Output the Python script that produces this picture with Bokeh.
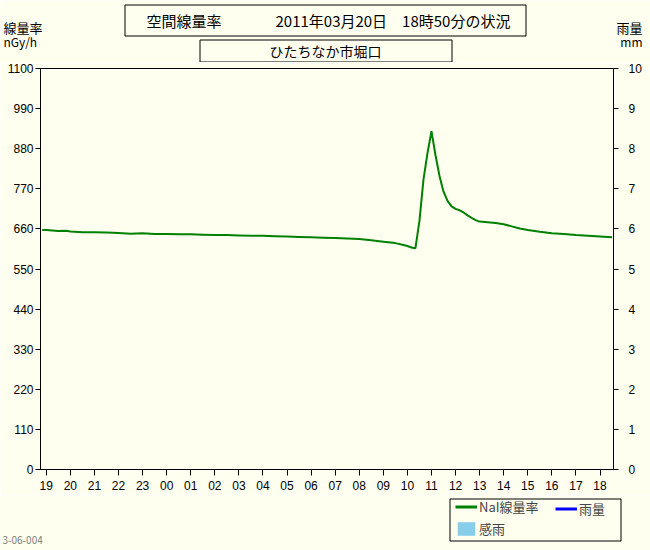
import pandas as pd
from bokeh.plotting import figure
from bokeh.layouts import column
from bokeh.models import (Range1d, LinearAxis, FixedTicker, Label, BoxAnnotation,
                          Legend, LegendItem, ColumnDataSource)
from bokeh.embed import file_html
from bokeh.resources import INLINE

# ---------------- data ----------------
times = [
    "2011-03-19 18:50", "2011-03-19 19:00", "2011-03-19 19:30", "2011-03-19 19:50",
    "2011-03-19 20:00", "2011-03-19 20:30", "2011-03-19 21:00", "2011-03-19 21:30",
    "2011-03-19 22:00", "2011-03-19 22:30", "2011-03-19 23:00", "2011-03-19 23:30",
    "2011-03-20 00:00", "2011-03-20 00:30", "2011-03-20 01:00", "2011-03-20 01:30",
    "2011-03-20 02:00", "2011-03-20 02:30", "2011-03-20 03:00", "2011-03-20 03:30",
    "2011-03-20 04:00", "2011-03-20 04:30", "2011-03-20 05:00", "2011-03-20 05:30",
    "2011-03-20 06:00", "2011-03-20 06:30", "2011-03-20 07:00", "2011-03-20 07:30",
    "2011-03-20 08:00", "2011-03-20 08:30", "2011-03-20 09:00", "2011-03-20 09:30",
    "2011-03-20 09:50", "2011-03-20 10:00", "2011-03-20 10:10", "2011-03-20 10:20",
    "2011-03-20 10:30", "2011-03-20 10:40", "2011-03-20 10:50", "2011-03-20 11:00",
    "2011-03-20 11:10", "2011-03-20 11:20", "2011-03-20 11:30", "2011-03-20 11:40",
    "2011-03-20 11:50", "2011-03-20 12:00", "2011-03-20 12:10", "2011-03-20 12:20",
    "2011-03-20 12:30", "2011-03-20 12:40", "2011-03-20 12:50", "2011-03-20 13:00",
    "2011-03-20 13:20", "2011-03-20 13:40", "2011-03-20 14:00", "2011-03-20 14:20",
    "2011-03-20 14:40", "2011-03-20 15:00", "2011-03-20 15:30", "2011-03-20 16:00",
    "2011-03-20 16:30", "2011-03-20 17:00", "2011-03-20 17:30", "2011-03-20 18:00",
    "2011-03-20 18:30",
]
nai_rate = [
    657, 657, 654, 655,
    653, 651, 651, 650,
    649, 647, 648, 646,
    646, 645, 645, 644,
    643, 643, 642, 641,
    641, 640, 639, 638,
    637, 636, 635, 634,
    632, 629, 625, 621,
    616, 613, 609, 607,
    682, 795, 868, 928,
    862, 805, 762, 737,
    722, 715, 711, 705,
    697, 690, 684, 680,
    678, 676, 673, 667,
    661, 657, 652, 648,
    646, 643, 641, 639,
    637,
]
rain_times = []      # 雨量: no rainfall recorded
rain_mm = []
sense_times = []     # 感雨: no rain sensed
sense_flag = []

rate_ticks = [0, 110, 220, 330, 440, 550, 660, 770, 880, 990, 1100]
rain_ticks = [0, 1, 2, 3, 4, 5, 6, 7, 8, 9, 10]
hour_labels = ["19", "20", "21", "22", "23", "00", "01", "02", "03", "04", "05", "06",
               "07", "08", "09", "10", "11", "12", "13", "14", "15", "16", "17", "18"]

# ---------------- styling ----------------
BG = "#FFFFF0"
FONT = "Noto Sans CJK JP"
NUM_FONT = "Liberation Sans"
W = 650
base = pd.Timestamp("2011-03-19 19:00")


def hrs(ts):
    return [(pd.Timestamp(s) - base) / pd.Timedelta(hours=1) for s in ts]


src = ColumnDataSource(dict(t=hrs(times), v=nai_rate))
rain_src = ColumnDataSource(dict(t=hrs(rain_times), v=rain_mm))
sense_src = ColumnDataSource(dict(t=hrs(sense_times), v=sense_flag))
# one-row placeholder so the legend can draw keys for the (empty) rain series
key_src = ColumnDataSource(dict(t=[float("nan")], v=[float("nan")]))


def blank(height):
    f = figure(width=W, height=height, output_backend="svg", toolbar_location=None,
               x_range=Range1d(0, W), y_range=Range1d(height, 0),
               x_axis_type=None, y_axis_type=None, min_border=0, frame_align=False,
               background_fill_color=BG, border_fill_color=BG, outline_line_color=None)
    f.xgrid.visible = False
    f.ygrid.visible = False
    return f


def lab(f, x, y, text, size="13px", align="left", color="black", font=FONT):
    f.add_layout(Label(x=x, y=y, text=text, text_font=font, text_font_size=size,
                       text_align=align, text_baseline="middle", text_color=color))


def box(f, l, r, t, b):
    f.add_layout(BoxAnnotation(left=l, right=r, top=t, bottom=b, fill_alpha=0,
                               line_color="black", line_width=1, line_alpha=1))


# ---------------- header ----------------
H_TOP = 62
head = blank(H_TOP)
box(head, 124.5, 525.5, 4.5, 35.5)
lab(head, 146, 20, "空間線量率", "15px")
lab(head, 275, 20, "2011年03月20日　18時50分の状況", "15px")
box(head, 199.5, 451.5, 39.5, 61.5)
lab(head, 325, 50.5, "ひたちなか市堀口", "14px", align="center")
lab(head, 3, 27, "線量率", "13px")
lab(head, 3, 41, "nGy/h", "12px")
lab(head, 642, 27, "雨量", "13px", align="right")
lab(head, 642, 41, "mm", "12px", align="right")

# ---------------- main chart ----------------
M_H = 433
p = figure(width=W, height=M_H, output_backend="svg", toolbar_location=None,
           x_range=Range1d(-0.24, 23.56), y_range=Range1d(0, 1100),
           min_border_left=40, min_border_right=37, min_border_top=6, min_border_bottom=26,
           frame_align=False,
           background_fill_color=BG, border_fill_color=BG,
           outline_line_color="black", outline_line_width=1)
p.xgrid.visible = False
p.ygrid.visible = False
p.extra_y_ranges = {"rain": Range1d(0, 10)}

r_nai = p.line("t", "v", source=src, line_color="#008000", line_width=2)
p.line("t", "v", source=rain_src, line_color="#0000FF", line_width=2, y_range_name="rain")
p.vbar(x="t", top="v", width=1/6, bottom=0, source=sense_src, y_range_name="rain",
       fill_color="#87CEEB", line_color=None)

rax = LinearAxis(y_range_name="rain")
p.add_layout(rax, "right")

for ax in [p.xaxis[0], p.yaxis[0], rax]:
    ax.axis_line_color = "black"
    ax.major_tick_line_color = "black"
    ax.minor_tick_line_color = None
    ax.major_tick_in = 0
    ax.major_tick_out = 5
    ax.major_label_text_font = NUM_FONT
    ax.major_label_text_font_size = "12px"
    ax.major_label_text_color = "black"

p.yaxis[0].ticker = FixedTicker(ticks=rate_ticks)
p.yaxis[0].major_label_standoff = 2
rax.ticker = FixedTicker(ticks=rain_ticks)
rax.major_label_standoff = 10
p.xaxis[0].ticker = FixedTicker(ticks=list(range(len(hour_labels))))
p.xaxis[0].major_label_overrides = {i: lb for i, lb in enumerate(hour_labels)}
p.xaxis[0].major_tick_out = 6
p.xaxis[0].major_label_standoff = 5

# ---------------- footer (legend) ----------------
F_H = 550 - H_TOP - M_H
foot = blank(F_H)
box(foot, 449.5, 620.5, 3.5, 45.5)
lab(foot, 2, 44, "3-06-004", "10px", color="#808080")
g_nai = foot.line("t", "v", source=src, line_color="#008000", line_width=3, visible=False)
g_rain = foot.line("t", "v", source=key_src, line_color="#0000FF", line_width=3, visible=False)
g_sense = foot.vbar(x="t", top="v", width=1/6, bottom=0, source=key_src,
                    fill_color="#87CEEB", line_color=None, visible=False)
common = dict(border_line_color=None, background_fill_alpha=0, padding=0, margin=0,
              spacing=3, glyph_width=22, glyph_height=17, label_height=17,
              label_standoff=2, label_text_font=FONT, label_text_font_size="13px",
              click_policy="none")
legA = Legend(items=[LegendItem(label="NaI線量率", renderers=[g_nai]),
                     LegendItem(label="感雨", renderers=[g_sense])],
              location=(455, F_H - 42.5), orientation="vertical", **common)
legB = Legend(items=[LegendItem(label="雨量", renderers=[g_rain])],
              location=(555, F_H - 22.5), orientation="vertical", **common)
foot.add_layout(legA)
foot.add_layout(legB)

page = column(head, p, foot, spacing=0)
open("out.html", "w").write(file_html(page, INLINE))
